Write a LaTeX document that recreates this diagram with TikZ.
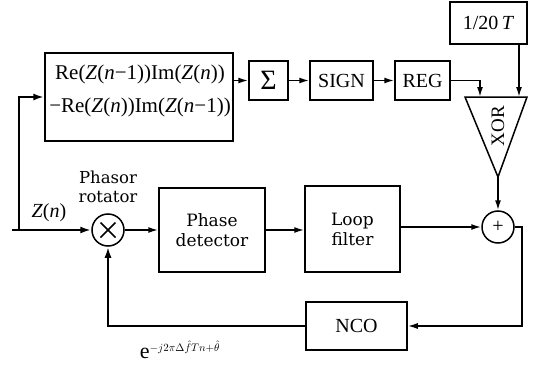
\documentclass[tikz,border=0pt]{standalone}
\usepackage{fontspec}
\setmainfont{Liberation Serif}
\newfontfamily\dvs{DejaVu Serif}
\usetikzlibrary{arrows.meta,calc}
\begin{document}
\begin{tikzpicture}[x=1pt,y=-1pt,
  blk/.style={draw, line width=1.5pt, inner sep=0pt, font=\fontsize{20}{22}\selectfont},
  arr/.style={line width=1.6pt, -{Latex[length=10pt,width=6pt]}},
  tarr/.style={line width=2.6pt, -{Latex[length=11pt,width=7pt]}},
  tline/.style={line width=2.6pt},
  lbl/.style={inner sep=0pt, align=center},
  wide/.style={font=\dvs\fontsize{17}{20}\selectfont}]
\useasboundingbox (0,0) rectangle (544,367);
% nodes
\node[blk, minimum width=188pt, minimum height=88pt] (re) at (139,97) {};
\node[lbl, font=\fontsize{21}{33}\selectfont] (ret) at (140,91)
  {Re(\textit{Z}(\textit{n}−1))Im(\textit{Z}(\textit{n}))\\−Re(\textit{Z}(\textit{n}))Im(\textit{Z}(\textit{n}−1))};
\node[blk, minimum width=39pt, minimum height=39pt, font=\fontsize{28}{30}\selectfont] (sig) at (268.5,80.5) {Σ};
\node[blk, minimum width=63pt, minimum height=39pt] (sign) at (341.5,80.5) {SIGN};
\node[blk, minimum width=55pt, minimum height=39pt] (reg) at (422.5,80.5) {REG};
\node[blk, minimum width=77pt, minimum height=42pt] (tw) at (488.5,23) {1/20\,\textit{T}};
\coordinate (xa) at (465,97);
\coordinate (xb) at (527,97);
\coordinate (xout) at (498,177);
\coordinate (xin1) at (480,97);
\coordinate (xin2) at (519,97);
\draw[line width=1.5pt, line join=miter] (xa) -- (xb) -- (xout) -- cycle;
\node[lbl, rotate=90, font=\fontsize{19}{20}\selectfont] (xor) at (498,126) {XOR};
\node[draw, circle, line width=1.5pt, minimum size=32pt, inner sep=0pt, font=\fontsize{20}{20}\selectfont] (plus) at (498,227) {+};
\node[draw, circle, line width=1.5pt, minimum size=32pt, inner sep=0pt] (mult) at (108,230) {};
\draw[line width=1.5pt] ($(mult)+(-7.5,-7.5)$) -- ($(mult)+(7.5,7.5)$)
                        ($(mult)+(-7.5,7.5)$) -- ($(mult)+(7.5,-7.5)$);
\node[blk, wide, minimum width=106pt, minimum height=84pt, align=center] (pd) at (212,230) {Phase\\detector};
\node[blk, wide, minimum width=95pt, minimum height=86pt, align=center] (lf) at (352.5,229) {Loop\\filter};
\node[blk, minimum width=101pt, minimum height=48pt] (nco) at (356.5,326) {NCO};
\coordinate (in) at (12,230);
\coordinate (br) at (19,230);
% labels
\node[lbl, font=\fontsize{20}{22}\selectfont] (zn) at (49,213) {\textit{Z}(\textit{n})};
\node[lbl, wide, font=\dvs\fontsize{16.5}{19}\selectfont] (pr) at (108,187) {Phasor\\rotator};
\node[lbl, font=\fontsize{22}{24}\selectfont] (ex) at (180,350)
  {$\mathrm{e}^{\scriptscriptstyle -j2\pi\Delta\hat{f}Tn+\hat{\theta}}$};
% connectors
\draw[tline] (in) -- (br);
\draw[tarr] (br) -- (mult.west);
\draw[tarr] (br) |- (re.west);
\draw[arr] (re.east |- sig.west) -- (sig.west);
\draw[arr] (sig.east) -- (sign.west);
\draw[arr] (sign.east) -- (reg.west);
\draw[arr] (reg.east) -| (xin1);
\draw[arr] (tw.south -| xin2) -- (xin2);
\draw[arr] (xout) -- (plus.north);
\draw[arr] (mult.east) -- (pd.west |- mult.east);
\draw[arr] (pd.east) -- (lf.west |- pd.east);
\draw[arr] (lf.east |- plus.west) -- (plus.west);
\draw[arr] (plus.east) -- ++(7,0) |- (nco.east);
\draw[tarr] (nco.west) -| (mult.south);
\end{tikzpicture}
\end{document}
